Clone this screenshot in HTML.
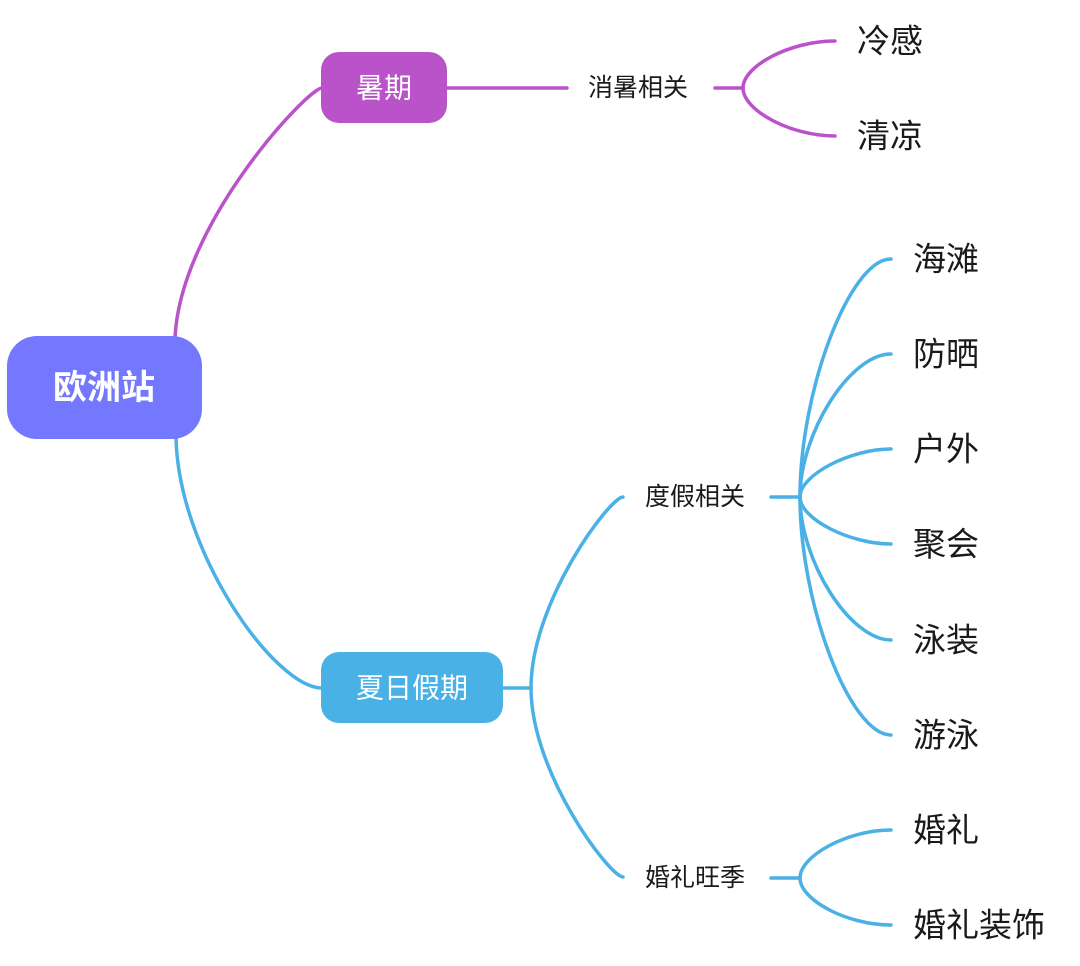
<!DOCTYPE html>
<html>
<head>
<meta charset="utf-8">
<style>
  html, body { margin: 0; padding: 0; background: #ffffff; }
  body { width: 1080px; height: 966px; overflow: hidden; }
  svg { display: block; }
  text { font-family: "Liberation Sans", "Noto Sans CJK SC", sans-serif; }
</style>
</head>
<body>
<svg width="1080" height="966" viewBox="0 0 1080 966" xmlns="http://www.w3.org/2000/svg">
  <!-- purple connectors -->
  <g fill="none" stroke="#BA52CA" stroke-width="3.5" stroke-linecap="round">
    <path d="M175,338 C180,224 308,88 322,88"/>
    <path d="M446,88 H567"/>
    <path d="M715,88 H743"/>
    <path d="M743,88 C743,66 790,41 835,41"/>
    <path d="M743,88 C743,110 790,136 835,136"/>
  </g>
  <!-- blue connectors -->
  <g fill="none" stroke="#49B1E5" stroke-width="3.5" stroke-linecap="round">
    <path d="M176,437 C178,552 275,688 322,688"/>
    <path d="M503,688 H531"/>
    <path d="M531,688 C531,602 610,497 623,497"/>
    <path d="M531,688 C531,773 610,877 623,877"/>
    <path d="M771,497 H800"/>
    <path d="M800,497 C800,390 850,259 891,259"/>
    <path d="M800,497 C800,433 850,354 891,354"/>
    <path d="M800,497 C800,475 850,449 891,449"/>
    <path d="M800,497 C800,519 850,544 891,544"/>
    <path d="M800,497 C800,561 850,640 891,640"/>
    <path d="M800,497 C800,604 850,735 891,735"/>
    <path d="M771,878 H800"/>
    <path d="M800,878 C800,856 847,830 891,830"/>
    <path d="M800,878 C800,900 847,925 891,925"/>
  </g>

  <!-- root -->
  <rect x="7" y="336" width="195" height="103" rx="30" ry="30" fill="#7378FE"/>
  <text x="104" y="388" font-size="34" font-weight="bold" fill="#ffffff" text-anchor="middle" dominant-baseline="central">欧洲站</text>

  <!-- 暑期 -->
  <rect x="321" y="52" width="126" height="71" rx="18" ry="18" fill="#BA52CA"/>
  <text x="384" y="88" font-size="28" fill="#ffffff" text-anchor="middle" dominant-baseline="central">暑期</text>

  <!-- 夏日假期 -->
  <rect x="321" y="652" width="182" height="71" rx="18" ry="18" fill="#49B1E5"/>
  <text x="412" y="688" font-size="28" fill="#ffffff" text-anchor="middle" dominant-baseline="central">夏日假期</text>

  <!-- sub labels -->
  <g font-size="25" fill="#1a1a1a" dominant-baseline="central">
    <text x="588" y="88">消暑相关</text>
    <text x="645" y="497">度假相关</text>
    <text x="645" y="878">婚礼旺季</text>
  </g>

  <!-- leaves -->
  <g font-size="33" fill="#1a1a1a" dominant-baseline="central">
    <text x="857" y="41">冷感</text>
    <text x="857" y="136">清凉</text>
    <text x="913" y="259">海滩</text>
    <text x="913" y="354">防晒</text>
    <text x="913" y="449">户外</text>
    <text x="913" y="544">聚会</text>
    <text x="913" y="640">泳装</text>
    <text x="913" y="735">游泳</text>
    <text x="913" y="830">婚礼</text>
    <text x="913" y="925">婚礼装饰</text>
  </g>
</svg>
</body>
</html>
